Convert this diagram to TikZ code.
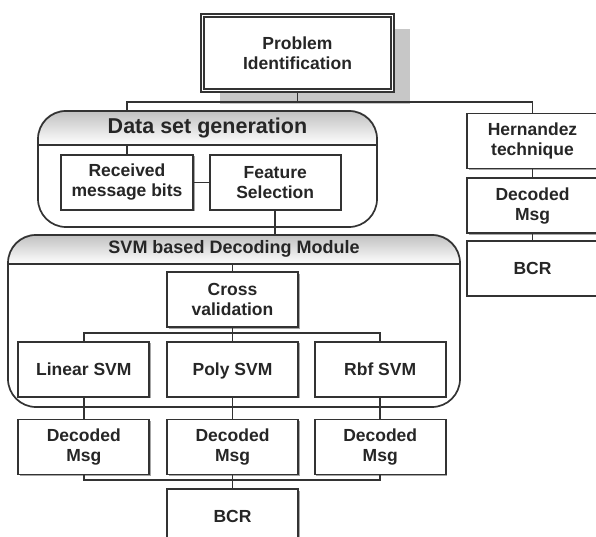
\documentclass[tikz,border=0pt]{standalone}
\usepackage{fontspec}
\setmainfont{Liberation Sans}
\usetikzlibrary{positioning}
\usetikzlibrary{calc}
\usetikzlibrary{shadows}
\usetikzlibrary{backgrounds}

\begin{document}
\begin{tikzpicture}[x=1pt,y=-1pt,
	boxbase/.style={rectangle, draw=black!80, fill=white, line width=1.7pt, minimum width=131pt, minimum height=55pt, align=center, inner sep=1pt, text=black!85, font=\bfseries\fontsize{17.5}{20}\selectfont},
	blk/.style={boxbase, drop shadow={shadow xshift=1.5pt, shadow yshift=-1.5pt, fill=black!35, opacity=1}},
	probbox/.style={boxbase, double=white, double distance=1.3pt, line width=1.7pt, minimum width=190pt, minimum height=75pt, drop shadow={shadow xshift=17pt, shadow yshift=-14pt, fill=black!22, opacity=1}},
	grp/.style={rectangle, rounded corners=28pt, draw=black!80, line width=1.7pt},
	grptitle/.style={text=black!85, font=\bfseries\fontsize{18}{20}\selectfont},
	wire/.style={draw=black!80, line width=1.7pt}]
	\useasboundingbox (0,0) rectangle (596,537);
	\node[probbox] (probid) at (297.5,53) {Problem\\Identification};
	% data set generation
	\node[grp, minimum width=339pt, minimum height=116pt] (datagrp) at (207.5,169) {};
	\coordinate (datasep) at ($(datagrp.north)+(0,35)$);
	\node[grptitle, font=\bfseries\fontsize{21.5}{24}\selectfont] (datatitle) at ($(datagrp.north)+(0,17.5)$) {Data set generation};
	\node[blk, minimum width=132pt] (recv) at (127,182.5) {Received\\message bits};
	\node[blk] (feat) [right=15pt of recv] {Feature\\Selection};
	% svm module
	\node[grp, minimum width=452pt, minimum height=172pt] (svmgrp) at (234,321) {};
	\coordinate (svmsep) at ($(svmgrp.north)+(0,30)$);
	\node[grptitle] (svmtitle) at ($(svmgrp.north)+(0,15)$) {SVM based Decoding Module};
	\node[blk] (cross) at (232.5,299.5) {Cross\\validation};
	\node[blk, text depth=0pt] (poly) [below=13pt of cross] {Poly SVM};
	\node[blk] (linsvm) [left=16pt of poly] {Linear SVM};
	\node[blk] (rbf) [right=15pt of poly] {Rbf SVM};
	\node[blk] (lindec) [below=21pt of linsvm] {Decoded\\Msg};
	\node[blk] (polydec) [below=21pt of poly] {Decoded\\Msg};
	\node[blk] (rbfdec) [below=21pt of rbf] {Decoded\\Msg};
	\node[blk] (bcr) [below=13pt of polydec] {BCR};
	% hernandez
	\node[blk] (hern) at (532.5,141) {Hernandez\\technique};
	\node[blk] (herndec) [below=8pt of hern] {Decoded\\Msg};
	\node[blk] (hernbcr) [below=6pt of herndec] {BCR};
	\begin{scope}[on background layer]
		\fill[white] (0,0) rectangle (596,537);
		\begin{scope}
			\clip[rounded corners=28pt] (datagrp.south west) rectangle (datagrp.north east);
			\shade[top color=black!25, bottom color=white] (datagrp.north west) rectangle (datagrp.east |- datasep);
		\end{scope}
		\begin{scope}
			\clip[rounded corners=28pt] (svmgrp.south west) rectangle (svmgrp.north east);
			\shade[top color=black!25, bottom color=white] (svmgrp.north west) rectangle (svmgrp.east |- svmsep);
		\end{scope}
	\end{scope}
	\draw[wire] (datagrp.west |- datasep) -- (datagrp.east |- datasep);
	\draw[wire] (svmgrp.west |- svmsep) -- (svmgrp.east |- svmsep);
	% connectors
	\coordinate (topbus) at ($(probid.south)+(0,11)$);
	\draw[wire] (probid.south) -- (topbus);
	\draw[wire] (recv |- datagrp.north) -- (recv |- topbus) -- (hern |- topbus) -- (hern.north);
	\draw[wire] (recv |- datasep) -- (recv.north);
	\draw[wire] (recv.east) -- (feat.west);
	\draw[wire] (feat.south) -- (feat |- svmgrp.north);
	\draw[wire] (cross |- svmsep) -- (cross.north);
	\coordinate (svmbus) at ($(cross.south)+(0,5)$);
	\draw[wire] (cross.south) -- (poly.north);
	\draw[wire] (linsvm.north) -- (linsvm |- svmbus) -- (rbf |- svmbus) -- (rbf.north);
	\draw[wire] (linsvm.south) -- (lindec.north);
	\draw[wire] (poly.south) -- (polydec.north);
	\draw[wire] (rbf.south) -- (rbfdec.north);
	\coordinate (decbus) at ($(polydec.south)+(0,5)$);
	\draw[wire] (lindec.south) -- (lindec |- decbus) -- (rbfdec |- decbus) -- (rbfdec.south);
	\draw[wire] (polydec.south) -- (bcr.north);
	\draw[wire] (hern.south) -- (herndec.north);
	\draw[wire] (herndec.south) -- (hernbcr.north);
\end{tikzpicture}
\end{document}
